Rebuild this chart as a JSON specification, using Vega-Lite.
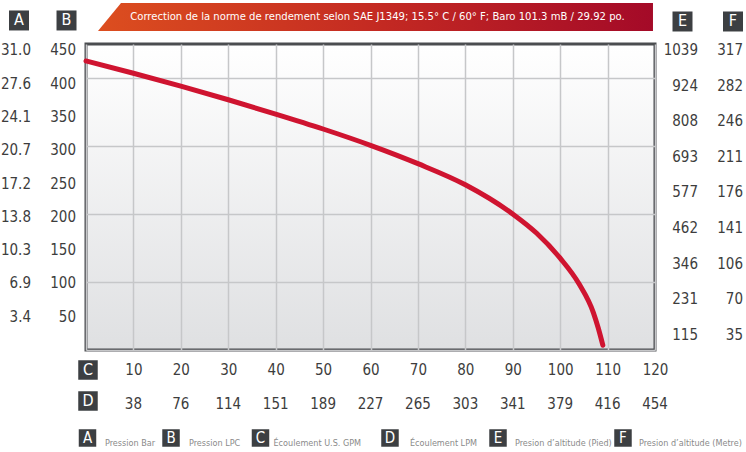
{
  "$schema": "https://vega.github.io/schema/vega-lite/v6.json",
  "width": 569,
  "height": 306,
  "autosize": {"type": "none"},
  "padding": {"left": 86, "top": 44, "right": 91, "bottom": 102},
  "background": "white",
  "config": {
    "view": {
      "stroke": "#4b4d50",
      "strokeWidth": 3,
      "fill": {"gradient": "linear", "x1": 0, "y1": 0, "x2": 0, "y2": 1,
        "stops": [{"offset": 0, "color": "#ffffff"}, {"offset": 1, "color": "#dfe0e2"}]}
    },
    "font": "DejaVu Sans Condensed, Liberation Sans, sans-serif"
  },
  "resolve": {"scale": {"y": "independent"}},
  "layer": [
    {
      "layer": [
        {
          "data": {"values": [{"t": "Correction de la norme de rendement selon SAE J1349; 15.5° C / 60° F; Baro 101.3 mB / 29.92 po."}]},
          "encoding": {"x": {"datum": 61.05}, "y": {"datum": 489.7}},
          "layer": [
            {"mark": {"type": "point", "shape": "M-1,0.0505L-0.917,-0.0505L1,-0.0505L1,0.0505Z", "size": 308025, "filled": true, "opacity": 1, "strokeWidth": 0,
              "fill": {"gradient": "linear", "x1": 0, "y1": 0, "x2": 1, "y2": 0,
                "stops": [{"offset": 0, "color": "#dc4e1f"}, {"offset": 0.5, "color": "#c42a22"}, {"offset": 1, "color": "#a40a28"}]}}},
            {"mark": {"type": "text", "color": "white", "fontSize": 11.2, "align": "center", "baseline": "middle", "dx": 2}, "encoding": {"text": {"field": "t"}}}
          ]
        },
        {
          "data": {"values": [{"l": "A"}]},
          "encoding": {"x": {"datum": -14.13}, "y": {"datum": 484.6}},
          "layer": [
            {"mark": {"type": "point", "shape": "square", "size": 400, "filled": true, "opacity": 1, "strokeWidth": 0, "color": "#3c3f42"}},
            {"mark": {"type": "text", "color": "white", "fontSize": 16, "align": "center", "baseline": "middle"}, "encoding": {"text": {"field": "l"}}}
          ]
        },
        {
          "data": {"values": [{"l": "B"}]},
          "encoding": {"x": {"datum": -4.11}, "y": {"datum": 484.6}},
          "layer": [
            {"mark": {"type": "point", "shape": "square", "size": 400, "filled": true, "opacity": 1, "strokeWidth": 0, "color": "#3c3f42"}},
            {"mark": {"type": "text", "color": "white", "fontSize": 16, "align": "center", "baseline": "middle"}, "encoding": {"text": {"field": "l"}}}
          ]
        },
        {
          "data": {"values": [{"l": "E"}]},
          "encoding": {"x": {"datum": 125.8}, "y": {"datum": 483.1}},
          "layer": [
            {"mark": {"type": "point", "shape": "square", "size": 400, "filled": true, "opacity": 1, "strokeWidth": 0, "color": "#3c3f42"}},
            {"mark": {"type": "text", "color": "white", "fontSize": 16, "align": "center", "baseline": "middle"}, "encoding": {"text": {"field": "l"}}}
          ]
        },
        {
          "data": {"values": [{"l": "F"}]},
          "encoding": {"x": {"datum": 136.45}, "y": {"datum": 483.1}},
          "layer": [
            {"mark": {"type": "point", "shape": "square", "size": 400, "filled": true, "opacity": 1, "strokeWidth": 0, "color": "#3c3f42"}},
            {"mark": {"type": "text", "color": "white", "fontSize": 16, "align": "center", "baseline": "middle"}, "encoding": {"text": {"field": "l"}}}
          ]
        },
        {
          "data": {"values": [{"l": "C"}]},
          "encoding": {"x": {"datum": 0.42}, "y": {"datum": -29.4}},
          "layer": [
            {"mark": {"type": "point", "shape": "square", "size": 380, "filled": true, "opacity": 1, "strokeWidth": 0, "color": "#3c3f42"}},
            {"mark": {"type": "text", "color": "white", "fontSize": 16, "align": "center", "baseline": "middle"}, "encoding": {"text": {"field": "l"}}}
          ]
        },
        {
          "data": {"values": [{"l": "D"}]},
          "encoding": {"x": {"datum": 0.42}, "y": {"datum": -75.0}},
          "layer": [
            {"mark": {"type": "point", "shape": "square", "size": 380, "filled": true, "opacity": 1, "strokeWidth": 0, "color": "#3c3f42"}},
            {"mark": {"type": "text", "color": "white", "fontSize": 16, "align": "center", "baseline": "middle"}, "encoding": {"text": {"field": "l"}}}
          ]
        },
        {
          "data": {"values": [{"gpm": 10, "lpm": "38"}, {"gpm": 20, "lpm": "76"}, {"gpm": 30, "lpm": "114"}, {"gpm": 40, "lpm": "151"}, {"gpm": 50, "lpm": "189"}, {"gpm": 60, "lpm": "227"}, {"gpm": 70, "lpm": "265"}, {"gpm": 80, "lpm": "303"}, {"gpm": 90, "lpm": "341"}, {"gpm": 100, "lpm": "379"}, {"gpm": 110, "lpm": "416"}, {"gpm": 120, "lpm": "454"}]},
          "mark": {"type": "text", "color": "#3d3d3d", "fontSize": 15, "align": "center", "baseline": "middle"},
          "encoding": {"x": {"field": "gpm", "type": "quantitative"}, "y": {"datum": -79.4}, "text": {"field": "lpm"}}
        },
        {
          "data": {"values": [{"l": "A", "t": "Pression Bar"}]},
          "encoding": {"x": {"datum": 0.316}, "y": {"datum": -129.4}},
          "layer": [
            {"mark": {"type": "point", "shape": "square", "size": 306, "filled": true, "opacity": 1, "strokeWidth": 0, "color": "#3c3f42"}},
            {"mark": {"type": "text", "color": "white", "fontSize": 15, "align": "center", "baseline": "middle"}, "encoding": {"text": {"field": "l"}}},
            {"mark": {"type": "text", "color": "#8a8a8a", "fontSize": 9, "align": "left", "baseline": "alphabetic", "dx": 17.5, "dy": 8}, "encoding": {"text": {"field": "t"}}}
          ]
        },
        {
          "data": {"values": [{"l": "B", "t": "Pression LPC"}]},
          "encoding": {"x": {"datum": 17.93}, "y": {"datum": -129.4}},
          "layer": [
            {"mark": {"type": "point", "shape": "square", "size": 306, "filled": true, "opacity": 1, "strokeWidth": 0, "color": "#3c3f42"}},
            {"mark": {"type": "text", "color": "white", "fontSize": 15, "align": "center", "baseline": "middle"}, "encoding": {"text": {"field": "l"}}},
            {"mark": {"type": "text", "color": "#8a8a8a", "fontSize": 9, "align": "left", "baseline": "alphabetic", "dx": 18, "dy": 8}, "encoding": {"text": {"field": "t"}}}
          ]
        },
        {
          "data": {"values": [{"l": "C", "t": "Écoulement U.S. GPM"}]},
          "encoding": {"x": {"datum": 36.8}, "y": {"datum": -129.4}},
          "layer": [
            {"mark": {"type": "point", "shape": "square", "size": 306, "filled": true, "opacity": 1, "strokeWidth": 0, "color": "#3c3f42"}},
            {"mark": {"type": "text", "color": "white", "fontSize": 15, "align": "center", "baseline": "middle"}, "encoding": {"text": {"field": "l"}}},
            {"mark": {"type": "text", "color": "#8a8a8a", "fontSize": 9, "align": "left", "baseline": "alphabetic", "dx": 13, "dy": 8}, "encoding": {"text": {"field": "t"}}}
          ]
        },
        {
          "data": {"values": [{"l": "D", "t": "Écoulement LPM"}]},
          "encoding": {"x": {"datum": 64.11}, "y": {"datum": -129.4}},
          "layer": [
            {"mark": {"type": "point", "shape": "square", "size": 306, "filled": true, "opacity": 1, "strokeWidth": 0, "color": "#3c3f42"}},
            {"mark": {"type": "text", "color": "white", "fontSize": 15, "align": "center", "baseline": "middle"}, "encoding": {"text": {"field": "l"}}},
            {"mark": {"type": "text", "color": "#8a8a8a", "fontSize": 9, "align": "left", "baseline": "alphabetic", "dx": 20, "dy": 8}, "encoding": {"text": {"field": "t"}}}
          ]
        },
        {
          "data": {"values": [{"l": "E", "t": "Presion d’altitude (Pied)"}]},
          "encoding": {"x": {"datum": 86.89}, "y": {"datum": -129.4}},
          "layer": [
            {"mark": {"type": "point", "shape": "square", "size": 306, "filled": true, "opacity": 1, "strokeWidth": 0, "color": "#3c3f42"}},
            {"mark": {"type": "text", "color": "white", "fontSize": 15, "align": "center", "baseline": "middle"}, "encoding": {"text": {"field": "l"}}},
            {"mark": {"type": "text", "color": "#8a8a8a", "fontSize": 9, "align": "left", "baseline": "alphabetic", "dx": 17, "dy": 8}, "encoding": {"text": {"field": "t"}}}
          ]
        },
        {
          "data": {"values": [{"l": "F", "t": "Presion d’altitude (Metre)"}]},
          "encoding": {"x": {"datum": 113.25}, "y": {"datum": -129.4}},
          "layer": [
            {"mark": {"type": "point", "shape": "square", "size": 306, "filled": true, "opacity": 1, "strokeWidth": 0, "color": "#3c3f42"}},
            {"mark": {"type": "text", "color": "white", "fontSize": 15, "align": "center", "baseline": "middle"}, "encoding": {"text": {"field": "l"}}},
            {"mark": {"type": "text", "color": "#8a8a8a", "fontSize": 9, "align": "left", "baseline": "alphabetic", "dx": 16, "dy": 8}, "encoding": {"text": {"field": "t"}}}
          ]
        },
        {
          "data": {"values": [
            {"gpm": 0, "psi": 425}, {"gpm": 10, "psi": 407}, {"gpm": 20, "psi": 388}, {"gpm": 30, "psi": 368},
            {"gpm": 40, "psi": 347}, {"gpm": 50, "psi": 325}, {"gpm": 60, "psi": 301}, {"gpm": 70, "psi": 274},
            {"gpm": 80, "psi": 243}, {"gpm": 90, "psi": 200}, {"gpm": 95, "psi": 172}, {"gpm": 100, "psi": 135},
            {"gpm": 104, "psi": 97}, {"gpm": 107, "psi": 55}, {"gpm": 108, "psi": 33}, {"gpm": 109, "psi": 7}
          ]},
          "mark": {"type": "line", "color": "#cf1430", "strokeWidth": 5, "strokeCap": "round", "interpolate": "monotone"},
          "encoding": {
            "x": {"field": "gpm", "type": "quantitative",
              "scale": {"domain": [0, 120], "nice": false, "zero": false},
              "axis": {"title": null, "values": [0,5,10,15,20,25,30,35,40,45,50,55,60,65,70,75,80,85,90,95,100,105,110,115,120],
                "grid": true, "gridColor": "#c6c7c9", "gridWidth": 1.5, "ticks": false, "tickSize": 0, "domain": false,
                "labelExpr": "datum.value > 0 && datum.value % 10 == 0 ? datum.label : ''",
                "labelPadding": 19, "labelBaseline": "middle", "labelFontSize": 15, "labelColor": "#3d3d3d",
                "labelFlush": false, "labelOverlap": false}},
            "y": {"field": "psi", "type": "quantitative",
              "scale": {"domain": [0, 450], "nice": false, "zero": false},
              "axis": {"title": null, "values": [0,50,100,150,200,250,300,350,400,450],
                "grid": true, "gridColor": "#c6c7c9", "gridWidth": 1.5, "ticks": false, "tickSize": 0, "domain": false, "labels": false}}
          }
        }
      ]
    },
    {
      "data": {"name": "conv"},
      "encoding": {
        "y": {"field": "psi", "type": "quantitative", "scale": {"domain": [0, 459.5], "nice": false, "zero": false}, "axis": null}
      },
      "layer": [
        {"mark": {"type": "text", "color": "#3d3d3d", "fontSize": 15, "align": "right", "baseline": "middle"},
          "encoding": {"x": {"datum": -11.6}, "text": {"field": "bar"}}},
        {"mark": {"type": "text", "color": "#3d3d3d", "fontSize": 15, "align": "right", "baseline": "middle"},
          "encoding": {"x": {"datum": -2.11}, "text": {"field": "psi"}}}
      ]
    },
    {
      "data": {"name": "conv"},
      "encoding": {
        "y": {"field": "psi", "type": "quantitative", "scale": {"domain": [28.95, 458.4], "nice": false, "zero": false}, "axis": null}
      },
      "layer": [
        {"mark": {"type": "text", "color": "#3d3d3d", "fontSize": 15, "align": "right", "baseline": "middle"},
          "encoding": {"x": {"datum": 129.07}, "text": {"field": "ft"}}},
        {"mark": {"type": "text", "color": "#3d3d3d", "fontSize": 15, "align": "right", "baseline": "middle"},
          "encoding": {"x": {"datum": 138.56}, "text": {"field": "m"}}}
      ]
    }
  ],
  "datasets": {
    "conv": [
      {"psi": 450, "bar": "31.0", "ft": "1039", "m": "317"},
      {"psi": 400, "bar": "27.6", "ft": "924", "m": "282"},
      {"psi": 350, "bar": "24.1", "ft": "808", "m": "246"},
      {"psi": 300, "bar": "20.7", "ft": "693", "m": "211"},
      {"psi": 250, "bar": "17.2", "ft": "577", "m": "176"},
      {"psi": 200, "bar": "13.8", "ft": "462", "m": "141"},
      {"psi": 150, "bar": "10.3", "ft": "346", "m": "106"},
      {"psi": 100, "bar": "6.9", "ft": "231", "m": "70"},
      {"psi": 50, "bar": "3.4", "ft": "115", "m": "35"}
    ]
  }
}
